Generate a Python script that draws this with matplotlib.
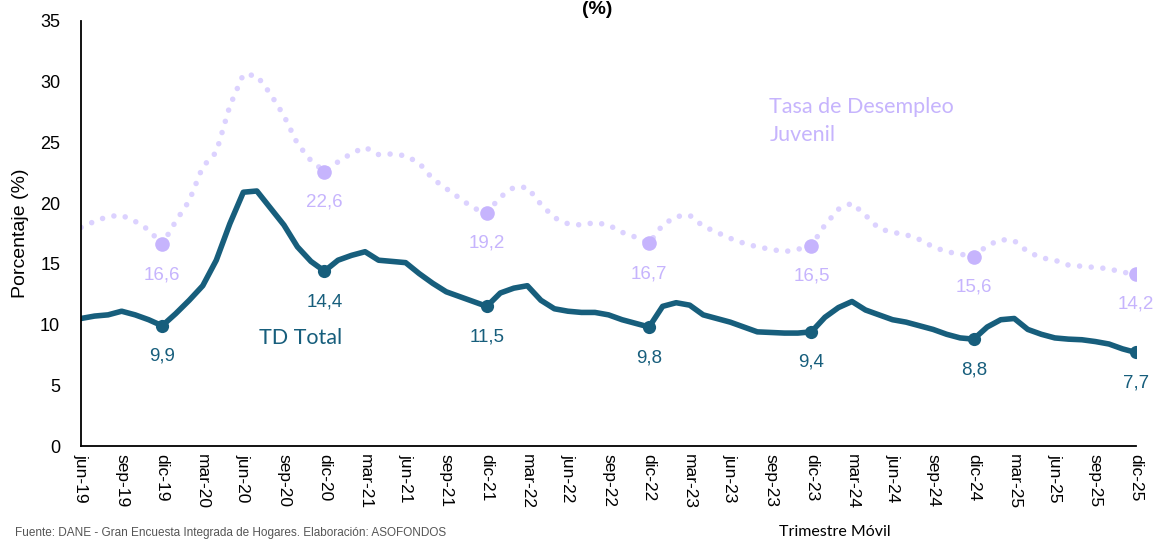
import numpy as np
import matplotlib
matplotlib.use("Agg")
import matplotlib.pyplot as plt

# monthly moving-quarter series, jun-19 .. dic-25
meses = ["ene", "feb", "mar", "abr", "may", "jun", "jul", "ago", "sep", "oct", "nov", "dic"]
periodos = []
for k in range(79):
    m = (5 + k) % 12
    a = 19 + (5 + k) // 12
    periodos.append(f"{meses[m]}-{a}")

td_total = [10.5, 10.7, 10.8, 11.1, 10.8, 10.4, 9.9,
            10.9, 12.0, 13.2, 15.3, 18.3, 20.9, 21.0, 19.6, 18.2, 16.4, 15.2, 14.4,
            15.3, 15.7, 16.0, 15.3, 15.2, 15.1, 14.2, 13.4, 12.7, 12.3, 11.9, 11.5,
            12.6, 13.0, 13.2, 12.0, 11.3, 11.1, 11.0, 11.0, 10.8, 10.4, 10.1, 9.8,
            11.5, 11.8, 11.6, 10.8, 10.5, 10.2, 9.8, 9.4, 9.35, 9.3, 9.3, 9.4,
            10.6, 11.4, 11.9, 11.2, 10.8, 10.4, 10.2, 9.9, 9.6, 9.2, 8.9, 8.8,
            9.8, 10.4, 10.5, 9.6, 9.2, 8.9, 8.8, 8.75, 8.6, 8.4, 8.0, 7.7]

td_juvenil = [18.0, 18.5, 18.9, 19.0, 18.5, 17.8, 16.6,
              18.5, 20.2, 23.0, 24.2, 28.0, 30.6, 30.5, 29.0, 27.2, 24.9, 23.5, 22.6,
              23.4, 24.1, 24.6, 24.0, 24.05, 23.9, 23.3, 22.0, 21.2, 20.4, 19.6, 19.2,
              20.5, 21.3, 21.3, 19.9, 18.8, 18.3, 18.2, 18.4, 18.2, 17.6, 17.2, 16.7,
              18.2, 18.9, 19.0, 18.1, 17.6, 17.1, 16.7, 16.4, 16.2, 16.0, 16.2, 16.5,
              18.2, 19.5, 20.0, 19.0, 17.9, 17.6, 17.4, 17.0, 16.4, 16.0, 15.8, 15.6,
              16.5, 17.0, 16.9, 16.0, 15.5, 15.3, 14.9, 14.8, 14.7, 14.6, 14.3, 14.2]

c_total = "#175e7c"
c_juv_line = "#dcd2ff"
c_juv = "#c6b4fd"

x = np.arange(len(periodos))
dic_idx = [i for i, p in enumerate(periodos) if p.startswith("dic")]

fig = plt.figure(figsize=(11.56, 5.41), dpi=100)
ax = fig.add_axes([0.0701, 0.1756, 0.9126, 0.7856])

ax.plot(x, td_juvenil, color=c_juv_line, lw=4, linestyle=(0, (0.001, 2.1)),
        dash_capstyle="round", solid_joinstyle="round")
ax.plot(x, td_total, color=c_total, lw=4, solid_capstyle="round", solid_joinstyle="round")

ax.plot(x[dic_idx], [td_juvenil[i] for i in dic_idx], "o", color=c_juv, ms=10.5, mec="none")
ax.plot(x[dic_idx], [td_total[i] for i in dic_idx], "o", color=c_total, ms=9.5, mec="none")

for i in dic_idx:
    ax.annotate(f"{td_juvenil[i]:.1f}".replace(".", ","), (x[i], td_juvenil[i]),
                xytext=(0, -22), textcoords="offset points", ha="center", va="center",
                color=c_juv, fontsize=13.5, family="Liberation Sans")
    ax.annotate(f"{td_total[i]:.1f}".replace(".", ","), (x[i], td_total[i]),
                xytext=(0, -22), textcoords="offset points", ha="center", va="center",
                color=c_total, fontsize=13.5, family="Liberation Sans")

ax.text(16.2, 8.9, "TD Total", color=c_total, fontsize=15.5, family="Lato",
        ha="center", va="center")
ax.text(50.9, 28.7, "Tasa de Desempleo\nJuvenil", color=c_juv, fontsize=15.5, family="Lato",
        ha="left", va="top", linespacing=1.5)

ax.set_xlim(0, 78)
ax.set_ylim(0, 35)
ax.set_yticks(range(0, 36, 5))
ax.set_xticks(x[::3])
ax.set_xticklabels(periodos[::3], rotation=270, family="Liberation Sans", fontsize=12.5)
for lab in ax.get_yticklabels():
    lab.set_family("Liberation Sans")
    lab.set_fontsize(13)
ax.tick_params(axis="y", length=0, pad=15)
ax.tick_params(axis="x", length=0, pad=6)
for s in ["top", "right"]:
    ax.spines[s].set_visible(False)
for s in ["left", "bottom"]:
    ax.spines[s].set_linewidth(1.3)
    ax.spines[s].set_color("black")

ax.set_ylabel("Porcentaje (%)", family="Liberation Sans", fontsize=14, labelpad=8)

fig.text(0.517, 0.982, "(%)", ha="center", va="center", fontsize=14,
         fontweight="bold", family="Liberation Sans")
fig.text(0.722, 0.017, "Trimestre Móvil", ha="center", va="center", fontsize=11.5, family="Lato")
fig.text(0.013, 0.003, "Fuente: DANE - Gran Encuesta Integrada de Hogares. Elaboración: ASOFONDOS",
         ha="left", va="bottom", fontsize=8.5, color="#555555", family="Liberation Sans")

fig.savefig("out.png", dpi=100)
